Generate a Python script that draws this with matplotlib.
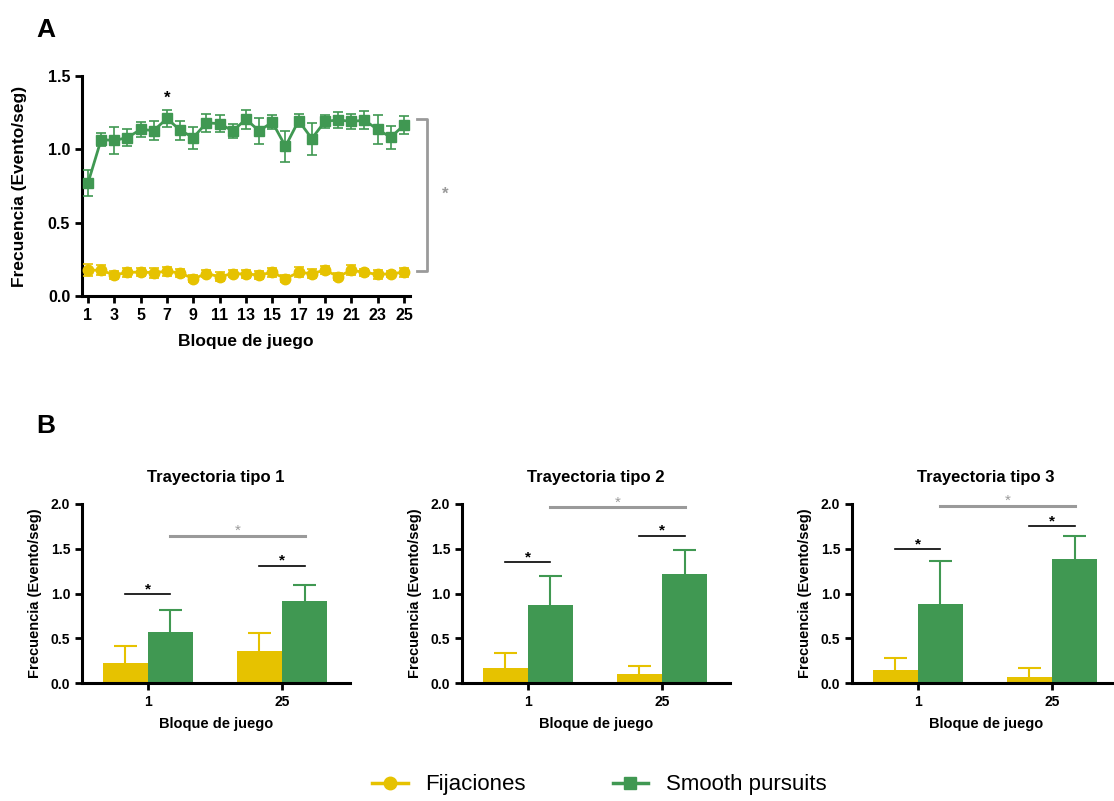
import matplotlib.pyplot as plt
from matplotlib.lines import Line2D

plt.rcParams['font.family'] = ['Liberation Sans', 'DejaVu Sans']
plt.rcParams['font.weight'] = 'bold'

YELLOW = '#E6C200'
GREEN = '#409852'
GRAY = '#9a9a9a'

# Panel A: frecuencia por bloque de juego
bloques = list(range(1, 26))
fij_media = [0.177, 0.175, 0.143, 0.161, 0.163, 0.159, 0.168, 0.157, 0.118, 0.152,
             0.132, 0.152, 0.150, 0.143, 0.161, 0.118, 0.161, 0.152, 0.177, 0.132,
             0.175, 0.161, 0.147, 0.152, 0.161]
fij_err = [0.04, 0.035, 0.03, 0.03, 0.03, 0.035, 0.03, 0.025, 0.025, 0.025,
           0.03, 0.025, 0.025, 0.025, 0.03, 0.025, 0.035, 0.03, 0.025, 0.025,
           0.035, 0.025, 0.03, 0.02, 0.03]
sp_media = [0.77, 1.066, 1.06, 1.08, 1.135, 1.128, 1.21, 1.13, 1.08, 1.18,
            1.175, 1.125, 1.205, 1.125, 1.185, 1.02, 1.195, 1.073, 1.19, 1.20,
            1.19, 1.198, 1.135, 1.082, 1.165]
sp_err = [0.087, 0.045, 0.093, 0.06, 0.05, 0.062, 0.057, 0.066, 0.075, 0.06,
          0.06, 0.05, 0.066, 0.09, 0.05, 0.104, 0.045, 0.109, 0.043, 0.053,
          0.051, 0.061, 0.098, 0.08, 0.059]

# Panel B: bloques 1 y 25 por tipo de trayectoria
tipos = ['Trayectoria tipo 1', 'Trayectoria tipo 2', 'Trayectoria tipo 3']
bloques_b = ['1', '25']
fij_bar = [[0.228, 0.355], [0.172, 0.10], [0.15, 0.064]]
fij_bar_err = [[0.19, 0.20], [0.164, 0.09], [0.127, 0.108]]
sp_bar = [[0.565, 0.916], [0.871, 1.215], [0.882, 1.38]]
sp_bar_err = [[0.255, 0.18], [0.32, 0.27], [0.486, 0.265]]
sig_b1 = [0.99, 1.353, 1.495]
sig_b25 = [1.31, 1.645, 1.753]
sig_entre = [1.645, 1.963, 1.98]


def style_axes(ax, fs):
    for s in ['top', 'right']:
        ax.spines[s].set_visible(False)
    for s in ['left', 'bottom']:
        ax.spines[s].set_linewidth(2.2)
    ax.tick_params(width=2.0, length=5, labelsize=fs, direction='out')


def upper_err(ax, xs, tops, errs, color, half):
    # solo la barra de error superior, detrás de la barra
    for x, t, e in zip(xs, tops, errs):
        ax.vlines(x, t - 0.02, t + e, color=color, linewidth=1.5, zorder=1)
        ax.hlines(t + e, x - half, x + half, color=color, linewidth=1.5, zorder=1)


fig = plt.figure(figsize=(11.14, 8.01), dpi=100)

# ---- A ----
ax = fig.add_axes([0.0736, 0.6305, 0.2944, 0.2747])
ax.errorbar(bloques, sp_media, yerr=sp_err, color=GREEN, marker='s', markersize=7.5,
            linewidth=2, elinewidth=1.2, capsize=3.6, capthick=1.2, clip_on=False, zorder=3)
ax.errorbar(bloques, fij_media, yerr=fij_err, color=YELLOW, marker='o', markersize=7.5,
            linewidth=2, elinewidth=1.2, capsize=3.6, capthick=1.2, clip_on=False, zorder=3)
ax.set_xlim(0.545, 25.455)
ax.set_ylim(0, 1.5)
ax.set_xticks(range(1, 26, 2))
ax.set_yticks([0.0, 0.5, 1.0, 1.5])
ax.set_yticklabels(['0.0', '0.5', '1.0', '1.5'])
style_axes(ax, 11.5)
ax.set_xlabel('Bloque de juego', fontsize=12.5, fontweight='bold', labelpad=8)
ax.set_ylabel('Frecuencia (Evento/seg)', fontsize=12.5, fontweight='bold', labelpad=15)
ax.text(7, 1.32, '*', ha='center', va='baseline', fontsize=12, fontweight='bold')
# corchete gris entre series
ax.plot([25.98, 26.74, 26.74, 25.98], [1.207, 1.207, 0.17, 0.17], color=GRAY,
        linewidth=2, clip_on=False)
ax.text(28.1, 0.664, '*', ha='center', va='baseline', fontsize=12, color=GRAY)

# ---- B ----
lefts = [82, 462, 852]
w = 0.336
for i in range(3):
    axb = fig.add_axes([lefts[i] / 1114, 0.1473, 268 / 1114, 0.2235])
    xs_f = [0 - w / 2, 1 - w / 2]
    xs_s = [0 + w / 2, 1 + w / 2]
    axb.bar(xs_f, fij_bar[i], width=w, color=YELLOW, linewidth=0, zorder=2)
    axb.bar(xs_s, sp_bar[i], width=w, color=GREEN, linewidth=0, zorder=2)
    upper_err(axb, xs_f, fij_bar[i], fij_bar_err[i], YELLOW, 0.085)
    upper_err(axb, xs_s, sp_bar[i], sp_bar_err[i], GREEN, 0.085)
    axb.set_xlim(-0.49, 1.507)
    axb.set_ylim(0, 2.0)
    axb.set_xticks([0, 1])
    axb.set_xticklabels(bloques_b)
    axb.set_yticks([0.0, 0.5, 1.0, 1.5, 2.0])
    axb.set_yticklabels(['0.0', '0.5', '1.0', '1.5', '2.0'])
    style_axes(axb, 10)
    axb.set_title(tipos[i], fontsize=12, fontweight='bold', pad=16)
    axb.set_xlabel('Bloque de juego', fontsize=10.5, fontweight='bold', labelpad=6)
    axb.set_ylabel('Frecuencia (Evento/seg)', fontsize=10.5, fontweight='bold', labelpad=6)
    # significancia
    for x0, x1, y, c in [(xs_f[0], xs_s[0], sig_b1[i], 'black'),
                         (xs_f[1], xs_s[1], sig_b25[i], 'black'),
                         (xs_s[0], xs_s[1], sig_entre[i], GRAY)]:
        lw = 1.2 if c == 'black' else 2.2
        axb.plot([x0, x1], [y, y], color=c, linewidth=lw, clip_on=False)
        axb.text((x0 + x1) / 2, y + 0.01, '*', ha='center', va='baseline',
                 fontsize=11, color=c, fontweight='bold' if c == 'black' else 'normal')

fig.text(0.041, 0.978, 'A', fontsize=19, fontweight='bold', va='top', ha='center')
fig.text(0.041, 0.483, 'B', fontsize=19, fontweight='bold', va='top', ha='center')

handles = [Line2D([], [], color=YELLOW, marker='o', markersize=9, linewidth=2.5),
           Line2D([], [], color=GREEN, marker='s', markersize=9, linewidth=2.5)]
fig.legend(handles, ['Fijaciones', 'Smooth pursuits'], loc='center',
           bbox_to_anchor=(0.538, 0.02), ncol=2, frameon=False,
           prop={'size': 16, 'weight': 'normal'}, handlelength=1.6,
           handletextpad=0.8, columnspacing=3.9)

fig.savefig('out.png', dpi=100)
